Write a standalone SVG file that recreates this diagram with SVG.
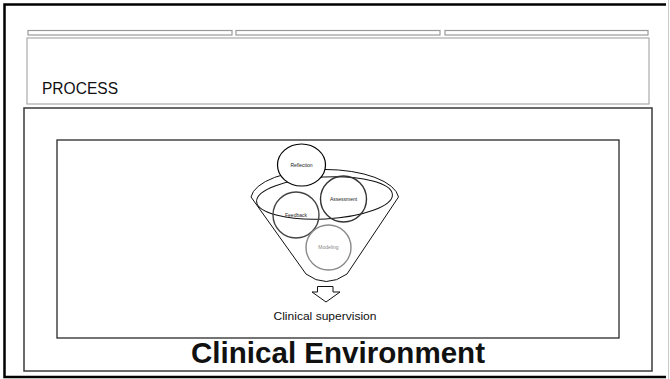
<svg xmlns="http://www.w3.org/2000/svg" width="670" height="379" viewBox="0 0 670 379">
  <style>
    .bar { fill: none; stroke: #9a9a9a; stroke-width: 1.2; }
    .frame { fill: none; stroke: #3a3a3a; stroke-width: 1.5; }
    .funnel { fill: none; stroke: #111; stroke-width: 1; }
    .tiny { font-family: "Liberation Sans", Arial, sans-serif; font-size: 5px; text-anchor: middle; }
    .label { font-family: "Liberation Sans", Arial, sans-serif; fill: #111; }
  </style>
  <rect x="0" y="0" width="670" height="379" fill="#ffffff"/>

  <!-- slide border -->
  <g id="slide-border">
    <path d="M666 4.5 H4.5 V377 H666" fill="none" stroke="#000" stroke-width="2.5"/>
    <line x1="668.5" y1="0" x2="668.5" y2="379" stroke="#c8c8c8" stroke-width="1"/>
  </g>

  <!-- top strip bars -->
  <g id="top-bars">
    <rect class="bar" x="28" y="30.5" width="204" height="4.5"/>
    <rect class="bar" x="236" y="30.5" width="204" height="4.5"/>
    <rect class="bar" x="445" y="30.5" width="203" height="4.5"/>
  </g>

  <!-- title box -->
  <g id="title">
    <rect x="27" y="38" width="622" height="66" fill="none" stroke="#aaaaaa" stroke-width="1.2"/>
    <text class="label" x="42" y="94" font-size="16" textLength="76" lengthAdjust="spacingAndGlyphs">PROCESS</text>
  </g>

  <!-- clinical environment container -->
  <g id="environment">
    <rect class="frame" x="24" y="108" width="628" height="263"/>
    <text class="label" x="338" y="363" font-size="30" font-weight="bold" text-anchor="middle" textLength="294" lengthAdjust="spacingAndGlyphs">Clinical Environment</text>
  </g>

  <!-- inner process panel -->
  <g id="process-panel">
    <rect x="57" y="140" width="562" height="198" fill="none" stroke="#2a2a2a" stroke-width="1.3"/>
  </g>

  <!-- funnel -->
  <g id="funnel">
    <path class="funnel" d="M251 197 A74 30 0 0 1 398.5 197 L347 274 Q326 289 306 274 Z"/>
    <ellipse class="funnel" cx="324.5" cy="198" rx="68" ry="21" transform="rotate(-3 324.5 198)"/>
  </g>

  <g id="feedback">
    <circle cx="296" cy="215" r="23" fill="none" stroke="#444" stroke-width="1.4"/>
    <text class="tiny" x="296" y="216.5" fill="#222">Feedback</text>
  </g>

  <g id="assessment">
    <circle cx="343.5" cy="199" r="23" fill="none" stroke="#333" stroke-width="1.4"/>
    <text class="tiny" x="343.5" y="200.5" fill="#222">Assessment</text>
  </g>

  <g id="modeling">
    <circle cx="328.5" cy="247.5" r="22.5" fill="none" stroke="#8a8a8a" stroke-width="1.4"/>
    <text class="tiny" x="328.5" y="249" fill="#888">Modeling</text>
  </g>

  <g id="reflection">
    <ellipse cx="301.5" cy="165" rx="24" ry="21" fill="#fff" stroke="#000" stroke-width="1.2"/>
    <text class="tiny" x="301.5" y="166.5" fill="#222">Reflection</text>
  </g>

  <!-- output arrow -->
  <g id="connectors">
    <path d="M317.5 286.5 H333 V292 H340 L326 302 L312 292 H317.5 Z" fill="#fff" stroke="#111" stroke-width="1"/>
  </g>

  <g id="clinical-supervision">
    <text class="label" x="325" y="320" font-size="11.5" text-anchor="middle" textLength="103" lengthAdjust="spacingAndGlyphs">Clinical supervision</text>
  </g>
</svg>
